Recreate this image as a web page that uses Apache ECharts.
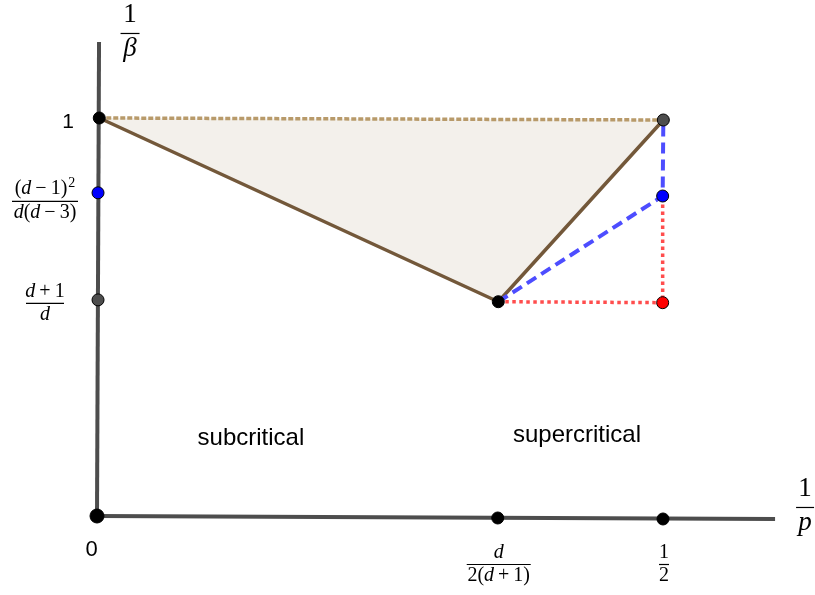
<!DOCTYPE html>
<html><head><meta charset="utf-8">
<script src="https://cdn.jsdelivr.net/npm/echarts@6/dist/echarts.min.js"></script>
<style>html,body{margin:0;padding:0;background:#fff}#c{width:815px;height:595px}</style>
</head><body><div id="c"></div>
<script>
// ---- data (coordinates in the 1/p , 1/beta plane) ----
const regionPolygon = [[0.002, 1.0], [0.5003, 0.995], [0.3545, 0.5384]];
const topEdge = [[0.002, 1.0], [0.5003, 0.995]];
const solidEdges = [[0.002, 1.0], [0.3545, 0.5384], [0.5003, 0.995]];
const blueDashed = [[0.3545, 0.5384], [0.4997, 0.804], [0.5003, 0.995]];
const redDotted = [[0.3545, 0.5384], [0.4997, 0.536], [0.4997, 0.804]];
const xAxisLine = [[0, 0], [0.599, -0.0075]];
const yAxisLine = [[0, 0], [0.0018, 1.191]];
const blackPoints = [[0.002, 1.0], [0.3545, 0.5384], [0.354, -0.005], [0.5, -0.0075]];
const grayPoints = [[0.0009, 0.543], [0.5003, 0.995]];
const bluePoints = [[0.0009, 0.812], [0.4997, 0.804]];
const redPoints = [[0.4997, 0.536]];
const originPoint = [[0, 0]];

// tick labels (rich text tokens: i = italic math, n = upright math, s = superscript)
const yTickValues = [1.0, 0.812, 0.543];
const yTickNum = ['1', '{n|(}{i|d}{n|\u2009−\u20091)}{s|2}', '{i|d}{n|\u2009+\u20091}'];
const yTickDen = [null, '{i|d}{n|(}{i|d}{n|\u2009−\u20093)}', '{i|d}'];
const xTickValues = [0, 0.354, 0.5];
const xTickNum = ['0', '{i|d}', '{n|1}'];
const xTickDen = [null, '{n|2(}{i|d}{n|\u2009+\u20091)}', '{n|2}'];
const axisTitleNum = ['{n|1}', '{n|1}'];
const axisTitleDen = ['{i|β}', '{i|p}'];
const regionLabels = ['subcritical', 'supercritical'];
const regionLabelPos = [[0.136, 0.196], [0.424, 0.203]];

const serif = 'Liberation Serif, DejaVu Serif, serif';
const sans = 'Liberation Sans, Arial, sans-serif';
const mathRich = (fs) => ({
  i: {fontFamily: serif, fontStyle: 'italic', fontSize: fs, fill: '#000'},
  n: {fontFamily: serif, fontSize: fs, fill: '#000'},
  s: {fontFamily: serif, fontSize: Math.round(fs * 0.68), fill: '#000', verticalAlign: 'top', padding: [0, 0, 9, 1]}
});

function fraction(cx, cy, num, den, fs, w, gapUp, gapDown) {
  return {
    type: 'group',
    children: [
      {type: 'text', x: cx, y: cy - (gapUp || 1), style: {text: num, rich: mathRich(fs), align: 'center', verticalAlign: 'bottom', font: fs + 'px ' + serif}},
      {type: 'line', shape: {x1: cx - w / 2, y1: cy + 0.5, x2: cx + w / 2, y2: cy + 0.5}, style: {stroke: '#000', lineWidth: 1.2}},
      {type: 'text', x: cx, y: cy + (gapDown || 2), style: {text: den, rich: mathRich(fs), align: 'center', verticalAlign: 'top', font: fs + 'px ' + serif}}
    ]
  };
}

const chart = echarts.init(document.getElementById('c'), null, {renderer: 'canvas'});

const lineSeries = (data, color, width, type, z) => ({
  type: 'line', data, symbol: 'none', silent: true, z, clip: false,
  lineStyle: {color, width, type, cap: 'butt'}, animation: false
});
const pointSeries = (data, color, size, z) => ({
  type: 'scatter', data, symbolSize: size, z, silent: true, animation: false, clip: false,
  itemStyle: {color, borderColor: '#000', borderWidth: 1, opacity: 1}
});

chart.setOption({
  animation: false,
  grid: {left: 97, top: 38.4, width: 679.2, height: 477.6},
  xAxis: {type: 'value', min: 0, max: 0.6, show: false},
  yAxis: {type: 'value', min: 0, max: 1.2, show: false},
  series: [
    {
      type: 'custom', z: 1, silent: true, data: [0], clip: false,
      renderItem: (params, api) => ({
        type: 'polygon',
        shape: {points: regionPolygon.map(p => api.coord(p))},
        style: {fill: '#f3f0eb', stroke: null}
      })
    },
    lineSeries(topEdge, '#b89a6a', 3.5, [5, 2], 2),
    lineSeries(solidEdges, '#73583a', 3.5, 'solid', 3),
    lineSeries(blueDashed, '#4d4dff', 4, [11, 6], 3),
    lineSeries(redDotted, '#ff4d4d', 3.5, [3.5, 3.5], 3),
    lineSeries(xAxisLine, '#4d4d4d', 4, 'solid', 2),
    lineSeries(yAxisLine, '#4d4d4d', 4, 'solid', 2),
    pointSeries(grayPoints, '#4d4d4d', 12, 5),
    pointSeries(bluePoints, '#0000ff', 12, 5),
    pointSeries(redPoints, '#ff0000', 12, 5),
    pointSeries(blackPoints, '#000000', 12, 5),
    pointSeries(originPoint, '#000000', 14, 5),
    {
      type: 'custom', z: 6, silent: true, clip: false,
      data: yTickValues.map((v, i) => [0, v, i]),
      renderItem: (params, api) => {
        const i = api.value(2);
        const p = api.coord([api.value(0), api.value(1)]);
        if (!yTickDen[i]) {
          return {type: 'text', x: p[0] - 29, y: p[1] + 4.5, style: {text: yTickNum[i], font: '21px ' + sans, fill: '#000', align: 'center', verticalAlign: 'middle'}};
        }
        const w = i === 1 ? 66 : 38;
        return fraction(p[0] - 52, p[1] + (i === 1 ? 8 : 3), yTickNum[i], yTickDen[i], 20, w);
      }
    },
    {
      type: 'custom', z: 6, silent: true, clip: false,
      data: xTickValues.map((v, i) => [v, 0, i]),
      renderItem: (params, api) => {
        const i = api.value(2);
        const p = api.coord([api.value(0), api.value(1)]);
        if (!xTickDen[i]) {
          return {type: 'text', x: p[0] - 5.5, y: p[1] + 34, style: {text: xTickNum[i], font: '22px ' + sans, fill: '#000', align: 'center', verticalAlign: 'middle'}};
        }
        const w = i === 1 ? 64 : 10;
        return fraction(p[0] + 1, p[1] + 48, xTickNum[i], xTickDen[i], 20, w);
      }
    },
    {
      type: 'custom', z: 6, silent: true, clip: false,
      data: [[yAxisLine[1][0], yAxisLine[1][1], 0], [xAxisLine[1][0], xAxisLine[1][1], 1]],
      renderItem: (params, api) => {
        const i = api.value(2);
        const p = api.coord([api.value(0), api.value(1)]);
        if (i === 0) return fraction(p[0] + 31, p[1] - 9, axisTitleNum[0], axisTitleDen[0], 27, 19, 5, 2);
        return fraction(p[0] + 30, p[1] - 12, axisTitleNum[1], axisTitleDen[1], 27, 18, 5, 2);
      }
    },
    {
      type: 'custom', z: 6, silent: true, clip: false,
      data: regionLabelPos.map((p, i) => [p[0], p[1], i]),
      renderItem: (params, api) => {
        const i = api.value(2);
        const p = api.coord([api.value(0), api.value(1)]);
        return {type: 'text', x: p[0], y: p[1], style: {text: regionLabels[i], font: '24px ' + sans, fill: '#000', align: 'center', verticalAlign: 'middle'}};
      }
    }
  ]
});
</script></body></html>
